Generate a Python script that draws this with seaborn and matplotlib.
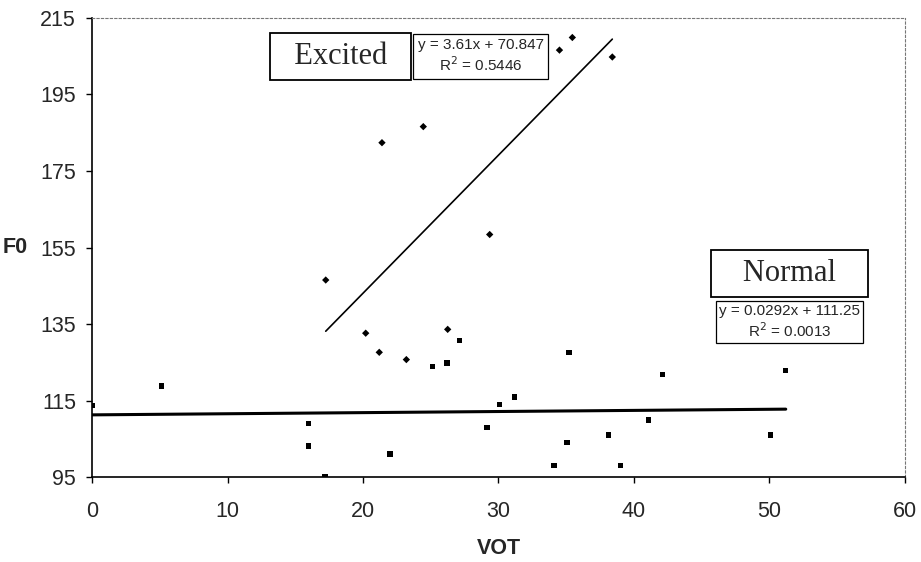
import numpy as np
import pandas as pd
import matplotlib
matplotlib.use("Agg")
import matplotlib.pyplot as plt
import seaborn as sns

# excited speech tokens (VOT in ms, F0 in Hz)
excited_vot = [17.25, 20.2, 21.2, 21.4, 23.2, 24.45, 26.25, 29.35, 34.5, 35.45, 38.4]
excited_f0 = [146.5, 132.6, 127.6, 182.4, 125.7, 186.6, 133.6, 158.4, 206.6, 209.9, 204.8]

# normal speech tokens
normal_vot = [0, 5.1, 16.0, 16.0, 17.2, 22.0, 25.1, 26.2, 27.1, 29.15, 30.1, 31.2,
              34.1, 35.05, 35.2, 38.1, 39.0, 41.1, 42.1, 50.1, 51.2]
normal_f0 = [113.8, 118.8, 108.9, 103.1, 95.0, 101.0, 123.8, 124.8, 130.7, 107.9, 113.9, 115.9,
             98.0, 104.0, 127.6, 106.0, 98.0, 109.9, 121.7, 106.0, 122.8]

# trendlines as printed on the chart
slopes = {"Excited": 3.61, "Normal": 0.0292}
intercepts = {"Excited": 70.847, "Normal": 111.25}
eq_text = {"Excited": "y = 3.61x + 70.847\nR$^2$ = 0.5446",
           "Normal": "y = 0.0292x + 111.25\nR$^2$ = 0.0013"}

df = pd.DataFrame({
    "VOT": excited_vot + normal_vot,
    "F0": excited_f0 + normal_f0,
    "group": ["Excited"] * len(excited_vot) + ["Normal"] * len(normal_vot),
})

sns.set_style("white")
plt.rcParams['font.family'] = ['Liberation Sans', 'DejaVu Sans']

fig = plt.figure(figsize=(9.21, 5.62), dpi=100)
ax = fig.add_axes([0.0999, 0.1512, 0.8827, 0.8168])

sns.scatterplot(data=df, x="VOT", y="F0", hue="group", style="group",
                markers={"Excited": "D", "Normal": "s"},
                palette={"Excited": "black", "Normal": "black"},
                s=14, edgecolor="black", linewidth=0, legend=False, ax=ax)

# trendlines over each group's range
for g, lw in [("Excited", 1.2), ("Normal", 2.2)]:
    xs = df.loc[df.group == g, "VOT"]
    xx = np.array([xs.min(), xs.max()])
    ax.plot(xx, slopes[g] * xx + intercepts[g], color="black", lw=lw, zorder=1)

ax.set_xlim(0, 60)
ax.set_ylim(95, 215)
ax.set_xticks(range(0, 61, 10))
ax.set_yticks(range(95, 216, 20))
ax.tick_params(axis="both", labelsize=15.5, length=4.5, width=1, direction="out",
               color="black", left=True, bottom=True)
ax.tick_params(axis="y", pad=7)
ax.tick_params(axis="x", pad=13)

for side in ["left", "bottom"]:
    ax.spines[side].set_color("black")
    ax.spines[side].set_linewidth(1.2)
for side in ["top", "right"]:
    ax.spines[side].set_color("#777777")
    ax.spines[side].set_linestyle((0, (2, 2)))
    ax.spines[side].set_linewidth(0.8)

ax.set_xlabel("VOT", fontsize=15.5, fontweight="bold")
ax.set_ylabel("F0", fontsize=15.5, fontweight="bold", rotation=0, va="center", ha="center")
ax.xaxis.set_label_coords(0.5, -0.133)
ax.yaxis.set_label_coords(-0.095, 0.5)

ebox = dict(boxstyle="square,pad=0.27", facecolor="white", edgecolor="black", linewidth=0.9)
lbox = dict(boxstyle="square,pad=0.3", facecolor="white", edgecolor="black", linewidth=1.3)

ax.text(0.3057, 0.916, "  Excited  ", transform=ax.transAxes, fontsize=22,
        family="Liberation Serif", ha="center", va="center", bbox=lbox)
ax.text(0.478, 0.917, eq_text["Excited"], transform=ax.transAxes, fontsize=11,
        ha="center", va="center", linespacing=1.25, bbox=ebox)
ax.text(0.858, 0.444, "   Normal   ", transform=ax.transAxes, fontsize=22,
        family="Liberation Serif", ha="center", va="center", bbox=lbox)
ax.text(0.8585, 0.3377, eq_text["Normal"], transform=ax.transAxes, fontsize=11,
        ha="center", va="center", linespacing=1.2,
        bbox=dict(boxstyle="square,pad=0.2", facecolor="white", edgecolor="black", linewidth=0.9))

fig.savefig("out.png", dpi=100)
